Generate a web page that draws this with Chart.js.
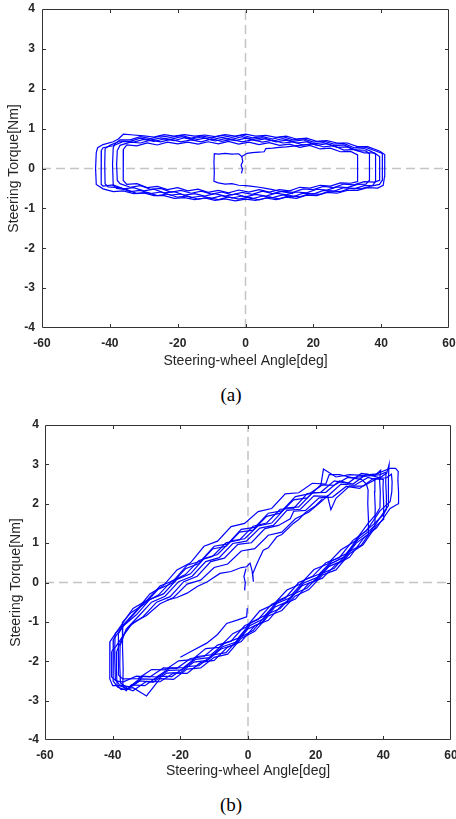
<!DOCTYPE html>
<html>
<head>
<meta charset="utf-8">
<script src="https://cdn.jsdelivr.net/npm/chart.js@4.4.0/dist/chart.umd.min.js"></script>
<style>
  body { margin: 0; background: #fff; width: 456px; height: 819px; position: relative; overflow: hidden; }
  .panel { position: absolute; left: 0; width: 456px; height: 370px; }
  .caption { position: absolute; left: 231px; transform: translateX(-50%); font-family: "Liberation Serif", "Times New Roman", serif; font-size: 19px; line-height: 22px; color: #000; }
</style>
</head>
<body>
<div class="panel" style="top:0"><canvas id="chartA"></canvas></div>
<div class="caption" style="top:384px">(a)</div>
<div class="panel" style="top:410px"><canvas id="chartB"></canvas></div>
<div class="caption" style="top:794px">(b)</div>

<script>
// axes
const angleTicks = [-60, -40, -20, 0, 20, 40, 60];
const torqueTicks = [-4, -3, -2, -1, 0, 1, 2, 3, 4];
const zeroTorqueLine = [[-60, 0], [60, 0]];
const zeroAngleLine = [[0, -4], [0, 4]];

// (a) steering-wheel angle [deg] vs torque [Nm], one array per cycle
const cycleA1 = [[-44,0.4],[-44.2,0.0],[-44,-0.4],[-42,-0.51],[-39,-0.58],[-36,-0.56],[-33,-0.63],[-30,-0.61],[-27,-0.68],[-24,-0.68],[-21,-0.75],[-18,-0.73],[-15,-0.78],[-12,-0.74],[-9,-0.8],[-6,-0.76],[-3,-0.81],[0,-0.77],[3,-0.8],[6,-0.74],[9,-0.78],[12,-0.72],[15,-0.75],[18,-0.67],[21,-0.68],[24,-0.6],[27,-0.62],[30,-0.55],[33,-0.55],[36,-0.48],[39,-0.49],[40.6,-0.42],[41,-0.2],[41.1,0.1],[41,0.35],[39.5,0.44],[36,0.55],[33,0.55],[30,0.64],[27,0.64],[24,0.7],[21,0.68],[18,0.76],[15,0.74],[12,0.81],[9,0.78],[6,0.83],[3,0.81],[0,0.86],[-3,0.81],[-6,0.85],[-9,0.8],[-12,0.84],[-15,0.81],[-18,0.85],[-21,0.81],[-24,0.85],[-27,0.79],[-30,0.82],[-33,0.84],[-36,0.86],[-37.5,0.74],[-39,0.67],[-42,0.6],[-43.6,0.52],[-44,0.4]];
const cycleA2 = [[-37.8,0.45],[-38,0.1],[-37.8,-0.3],[-37,-0.38],[-34,-0.47],[-31,-0.43],[-28,-0.52],[-25,-0.5],[-22,-0.59],[-19,-0.55],[-16,-0.62],[-13,-0.57],[-10,-0.64],[-7,-0.59],[-4,-0.66],[-1,-0.6],[2,-0.65],[5,-0.57],[8,-0.63],[11,-0.57],[14,-0.6],[17,-0.51],[20,-0.53],[23,-0.45],[26,-0.48],[29,-0.39],[32,-0.41],[35,-0.33],[38,-0.34],[39.5,-0.3],[39.6,0.0],[39.5,0.3],[38,0.39],[35,0.39],[32,0.48],[29,0.46],[26,0.57],[23,0.54],[20,0.62],[17,0.59],[14,0.67],[11,0.64],[8,0.71],[5,0.66],[2,0.72],[-1,0.67],[-4,0.73],[-7,0.68],[-10,0.74],[-13,0.67],[-16,0.72],[-19,0.67],[-22,0.73],[-25,0.67],[-28,0.71],[-31,0.64],[-34,0.66],[-37,0.58],[-37.8,0.45]];
const cycleA3 = [[-41.4,0.5],[-41.5,0.1],[-41.4,-0.38],[-40.5,-0.46],[-37,-0.48],[-34,-0.58],[-31,-0.55],[-28,-0.63],[-25,-0.59],[-22,-0.67],[-19,-0.64],[-16,-0.73],[-13,-0.69],[-10,-0.75],[-7,-0.68],[-4,-0.74],[-1,-0.69],[2,-0.76],[5,-0.69],[8,-0.73],[11,-0.66],[14,-0.71],[17,-0.62],[20,-0.64],[23,-0.55],[26,-0.57],[29,-0.48],[32,-0.51],[35,-0.43],[37.5,-0.42],[38.3,-0.33],[38.4,0.0],[38.3,0.36],[37,0.43],[35,0.5],[32,0.48],[29,0.59],[26,0.57],[23,0.65],[20,0.62],[17,0.72],[14,0.68],[11,0.75],[8,0.69],[5,0.77],[2,0.73],[-1,0.8],[-4,0.73],[-7,0.78],[-10,0.72],[-13,0.79],[-16,0.74],[-19,0.8],[-22,0.73],[-25,0.77],[-28,0.71],[-31,0.76],[-34,0.68],[-37,0.69],[-40,0.58],[-41.4,0.5]];
const cycleA4 = [[-36,0.48],[-36.1,0.1],[-36,-0.3],[-35,-0.4],[-32,-0.38],[-29,-0.48],[-26,-0.45],[-23,-0.53],[-20,-0.48],[-17,-0.56],[-14,-0.52],[-11,-0.6],[-8,-0.55],[-5,-0.61],[-2,-0.54],[1,-0.59],[4,-0.53],[7,-0.59],[10,-0.53],[13,-0.56],[16,-0.47],[19,-0.49],[22,-0.42],[25,-0.44],[28,-0.36],[31,-0.37],[33,-0.33],[33.1,0.0],[33,0.34],[31,0.43],[28,0.42],[25,0.51],[22,0.49],[19,0.58],[16,0.53],[13,0.61],[10,0.58],[7,0.65],[4,0.6],[1,0.66],[-2,0.61],[-5,0.68],[-8,0.62],[-11,0.67],[-14,0.61],[-17,0.66],[-20,0.62],[-23,0.66],[-26,0.59],[-29,0.64],[-32,0.57],[-35,0.59],[-36,0.48]];
const cycleA5 = [[-39,0.52],[-39.2,0.1],[-39,-0.42],[-38,-0.5],[-35,-0.53],[-32,-0.63],[-29,-0.6],[-26,-0.68],[-23,-0.64],[-20,-0.72],[-17,-0.69],[-14,-0.77],[-11,-0.73],[-8,-0.78],[-5,-0.71],[-2,-0.77],[1,-0.72],[4,-0.79],[7,-0.72],[10,-0.76],[13,-0.68],[16,-0.71],[19,-0.63],[22,-0.65],[25,-0.56],[28,-0.58],[31,-0.49],[34,-0.51],[37,-0.44],[39.5,-0.4],[40.3,-0.3],[40.4,0.05],[40.3,0.38],[38,0.45],[35,0.54],[32,0.52],[29,0.63],[26,0.61],[23,0.69],[20,0.66],[17,0.75],[14,0.72],[11,0.8],[8,0.74],[5,0.8],[2,0.77],[-1,0.84],[-4,0.78],[-7,0.83],[-10,0.77],[-13,0.82],[-16,0.76],[-19,0.83],[-22,0.78],[-25,0.82],[-28,0.75],[-31,0.8],[-34,0.72],[-37,0.72],[-38.5,0.62],[-39,0.52]];
const cycleA6 = [[-42.5,0.45],[-42.6,0.0],[-42.5,-0.4],[-42,-0.44],[-39,-0.41],[-36,-0.51],[-33,-0.48],[-30,-0.56],[-27,-0.52],[-24,-0.61],[-21,-0.58],[-18,-0.67],[-15,-0.63],[-12,-0.69],[-9,-0.63],[-6,-0.69],[-3,-0.64],[0,-0.71],[3,-0.65],[6,-0.69],[9,-0.62],[12,-0.66],[15,-0.59],[18,-0.61],[21,-0.52],[24,-0.54],[27,-0.46],[30,-0.48],[33,-0.4],[35.5,-0.39],[36.5,-0.3],[36.6,0.05],[36.5,0.37],[35.5,0.44],[33,0.44],[30,0.54],[27,0.53],[24,0.62],[21,0.58],[18,0.67],[15,0.64],[12,0.71],[9,0.67],[6,0.75],[3,0.7],[0,0.76],[-3,0.7],[-6,0.75],[-9,0.69],[-12,0.76],[-15,0.71],[-18,0.77],[-21,0.7],[-24,0.74],[-27,0.68],[-30,0.73],[-33,0.66],[-36,0.68],[-39,0.57],[-42,0.52],[-42.5,0.45]];
const startA1 = [[-1.2,-0.12],[-0.9,-0.02],[-1.3,0.08],[-0.8,0.18],[-1.1,0.3],[-2,0.37],[-4,0.36],[-6,0.38],[-8,0.36],[-9.2,0.37],[-9.3,0.15],[-9.2,-0.1],[-9.3,-0.32],[-8,-0.36],[-6,-0.39],[-4,-0.38],[-2,-0.42],[0,-0.43],[2,-0.45],[4,-0.47],[6,-0.5],[8,-0.53],[10,-0.57],[12,-0.6],[14,-0.63]];
const startA2 = [[-1.1,0.3],[0.5,0.38],[2,0.4],[4,0.41],[5.5,0.42],[6,0.5],[8,0.51],[10,0.53],[12,0.54],[14,0.56],[16,0.58],[18,0.6],[20,0.62]];

// (b)
const cycleB1 = [[-40.8,-1.5],[-40.9,-2.0],[-40.8,-2.45],[-40,-2.62],[-38,-2.62],[-34,-2.75],[-30,-2.51],[-26,-2.52],[-22,-2.3],[-18,-2.31],[-14,-2.03],[-10,-1.98],[-6,-1.64],[-2,-1.5],[2,-1.1],[6,-0.96],[10,-0.57],[14,-0.42],[18,-0.02],[22,0.11],[26,0.46],[30,0.64],[34,1.11],[38,1.39],[42,1.88],[44.4,2.0],[44.5,2.3],[44.3,2.6],[44.4,2.82],[43.6,2.9],[42,2.9],[38,2.76],[34,2.72],[30,2.74],[26,2.68],[22.3,2.88],[21.5,2.45],[18,2.25],[14,2.18],[10,1.82],[6,1.76],[2,1.4],[-2,1.35],[-6,0.98],[-10,0.92],[-14,0.54],[-18,0.44],[-22,0.05],[-26,-0.09],[-30,-0.46],[-34,-0.66],[-38,-1.15],[-40.8,-1.5]];
const cycleB2 = [[-40.3,-1.75],[-40.4,-2.1],[-40.2,-2.4],[-39,-2.5],[-37,-2.53],[-33,-2.38],[-29,-2.4],[-25,-2.17],[-21,-2.18],[-17,-1.93],[-13,-1.88],[-9,-1.59],[-5,-1.49],[-1,-1.1],[3,-0.94],[7,-0.55],[11,-0.4],[15,0.0],[19,0.15],[23,0.5],[27,0.63],[31,1.07],[35,1.31],[39,1.82],[42,2.05],[42.5,2.3],[42.6,2.55],[42.4,2.75],[41,2.66],[37,2.64],[33,2.39],[29,2.44],[25,2.17],[21,2.15],[17,1.83],[13.5,1.81],[12.5,1.62],[9,1.45],[5,1.37],[1,1.01],[-3,0.97],[-7,0.62],[-11,0.53],[-15,0.16],[-19,0.02],[-23,-0.36],[-27,-0.5],[-31,-0.87],[-35,-1.1],[-39,-1.62],[-40.3,-1.75]];
const cycleB3 = [[-39.8,-1.45],[-39.9,-1.95],[-39.8,-2.5],[-38.5,-2.66],[-36,-2.73],[-32,-2.5],[-28,-2.53],[-24,-2.3],[-20,-2.29],[-16,-2.02],[-12,-1.98],[-8,-1.69],[-4,-1.58],[0,-1.18],[4,-1.02],[8,-0.62],[12,-0.47],[16,-0.08],[20,0.05],[24,0.41],[28,0.56],[32,1.0],[36,1.26],[40,1.77],[41.5,1.95],[41.6,2.3],[41.4,2.65],[41.7,3.0],[41,2.78],[39,2.66],[35,2.75],[31,2.5],[27,2.58],[23,2.29],[19,2.28],[15,1.92],[11,1.89],[7,1.51],[3,1.44],[-1,1.11],[-5,1.06],[-9,0.71],[-13,0.61],[-17,0.22],[-21,0.08],[-25,-0.29],[-29,-0.43],[-33,-0.82],[-37,-1.11],[-39.8,-1.45]];
const cycleB4 = [[-39.3,-1.3],[-39.4,-1.9],[-39.2,-2.45],[-38,-2.6],[-35,-2.65],[-31,-2.38],[-27,-2.4],[-23,-2.17],[-19,-2.16],[-15,-1.88],[-11,-1.84],[-7,-1.55],[-3,-1.42],[1,-1.01],[5,-0.84],[9,-0.45],[13,-0.3],[17,0.08],[21,0.21],[25,0.56],[29,0.73],[33,1.18],[37,1.47],[40,1.72],[40.8,1.85],[40.9,2.2],[40.7,2.55],[40.8,2.8],[39,2.74],[35,2.7],[31,2.66],[27,2.74],[24,2.74],[23,2.5],[19,2.52],[15,2.28],[11,2.25],[7,1.88],[3,1.8],[-1,1.5],[-5,1.42],[-9,1.05],[-13,0.92],[-17,0.5],[-21,0.32],[-25,-0.08],[-29,-0.29],[-33,-0.71],[-37,-1.09],[-39.3,-1.3]];
const cycleB5 = [[-38.8,-1.75],[-38.9,-2.2],[-38.7,-2.6],[-37.5,-2.72],[-34,-2.67],[-30,-2.88],[-26,-2.44],[-22,-2.46],[-18,-2.2],[-14,-2.17],[-10,-1.9],[-6,-1.82],[-2,-1.42],[2,-1.24],[6,-0.85],[10,-0.71],[14,-0.34],[18,-0.18],[22,0.19],[26,0.32],[30,0.73],[34,0.96],[38,1.45],[40,1.6],[40.1,2.0],[39.9,2.4],[40,2.62],[38,2.63],[34,2.45],[30,2.45],[26,2.14],[24.5,1.85],[23.5,2.2],[22,2.08],[18,1.79],[14,1.62],[10,1.28],[6,1.2],[2,0.86],[-2,0.8],[-6,0.47],[-10,0.38],[-14,0.06],[-18,-0.04],[-22,-0.38],[-26,-0.54],[-30,-0.84],[-34,-1.02],[-37,-1.36],[-38.8,-1.75]];
const cycleB6 = [[-38.3,-1.3],[-38.4,-1.9],[-38.2,-2.35],[-37,-2.45],[-32.5,-2.44],[-28.5,-2.21],[-24.5,-2.22],[-20.5,-1.99],[-16.5,-1.96],[-12.5,-1.68],[-8.5,-1.65],[-4.5,-1.3],[-0.5,-1.13],[3.5,-0.72],[7.5,-0.56],[11.5,-0.19],[15.5,-0.04],[19.5,0.33],[23.5,0.47],[27.5,0.83],[31.5,1.04],[35.5,1.5],[38,1.75],[39,1.9],[39.1,2.3],[38.9,2.6],[39.2,2.85],[37.5,2.72],[33.5,2.77],[29.5,2.52],[25.5,2.58],[21.5,2.29],[17.5,2.26],[13.5,1.88],[9.5,1.86],[5.5,1.51],[1.5,1.43],[-2.5,1.08],[-6.5,1.01],[-10.5,0.66],[-14.5,0.56],[-18.5,0.2],[-22.5,0.04],[-26.5,-0.32],[-30.5,-0.5],[-34.5,-0.88],[-37,-1.12],[-38.3,-1.3]];
const cycleB7 = [[-37.8,-1.6],[-37.9,-2.1],[-37.7,-2.55],[-36.5,-2.62],[-35.5,-2.7],[-31.5,-2.45],[-27.5,-2.46],[-23.5,-2.23],[-19.5,-2.22],[-15.5,-1.95],[-11.5,-1.91],[-7.5,-1.63],[-3.5,-1.51],[0.5,-1.1],[4.5,-0.93],[8.5,-0.53],[12.5,-0.39],[16.5,-0.01],[20.5,0.13],[24.5,0.48],[28.5,0.65],[32.5,1.09],[36,1.32],[37.5,1.45],[37.6,1.9],[37.4,2.3],[37.5,2.62],[35.5,2.67],[31.5,2.47],[27.5,2.5],[23.5,2.19],[19.5,2.2],[15.5,1.86],[11.5,1.83],[7.5,1.45],[3.5,1.38],[-0.5,1.05],[-4.5,0.99],[-8.5,0.63],[-12.5,0.53],[-16.5,0.16],[-20.5,0.02],[-24.5,-0.35],[-28.5,-0.5],[-32.5,-0.87],[-36,-1.18],[-37.8,-1.6]];
const cycleB8 = [[-37,-1.0],[-37.1,-1.6],[-36.9,-2.2],[-37,-2.6],[-36,-2.75],[-34.5,-2.6],[-30.5,-2.62],[-26.5,-2.38],[-22.5,-2.39],[-18.5,-2.14],[-14.5,-2.11],[-10.5,-1.84],[-6.5,-1.78],[-2.5,-1.4],[1.5,-1.22],[5.5,-0.81],[9.5,-0.66],[13.5,-0.29],[17.5,-0.14],[21.5,0.22],[25.5,0.36],[29.5,0.76],[33.5,0.95],[35.5,1.2],[35.6,1.6],[35.4,2.0],[35.5,2.35],[35,2.5],[33.5,2.62],[29.5,2.67],[25.5,2.47],[21.5,2.48],[17.5,2.15],[13.5,2.1],[9.5,1.76],[5.5,1.68],[1.5,1.33],[-2.5,1.28],[-6.5,0.92],[-10.5,0.85],[-14.5,0.48],[-18.5,0.35],[-22.5,-0.02],[-26.5,-0.17],[-30.5,-0.54],[-34.5,-0.76],[-37,-1.0]];
const startB1 = [[-24,-0.45],[-21,-0.38],[-18,-0.27],[-15,-0.1],[-12,0.02],[-8.3,0.23],[-5,0.28],[-2,0.38],[-0.4,0.4],[0.6,0.49],[1.2,0.3],[1.6,0.02],[1.4,0.22],[2.5,0.45],[4.5,0.82],[6,0.88],[8.5,1.16],[10,1.22],[13.4,1.5],[15,1.6],[17,1.78],[20,1.95],[22,2.12]];
const startB2 = [[-20,-1.9],[-17,-1.76],[-12.2,-1.54],[-9,-1.32],[-6.3,-1.04],[-3,-0.95],[-0.4,-0.87],[-0.2,-0.65]];
const startB3 = [[-1,-0.2],[-0.8,0.0],[-1.2,0.15],[-0.6,0.35]];

const fontFamily = "'Liberation Sans', Arial, sans-serif";
const textColor = '#262626';

function traceSet(pairs) {
  return {
    data: pairs.map(([x, y]) => ({ x, y })),
    showLine: true,
    borderColor: '#0000ff',
    borderWidth: 1.2,
    pointRadius: 0,
    fill: false,
    order: 1
  };
}

function zeroSet(pairs) {
  return {
    data: pairs.map(([x, y]) => ({ x, y })),
    showLine: true,
    borderColor: '#c4c4c4',
    borderDash: [9, 5],
    borderWidth: 1.5,
    pointRadius: 0,
    order: 2
  };
}

// box + inward ticks on all four sides
const framePlugin = {
  id: 'frame',
  afterDatasetsDraw(chart) {
    const { ctx, chartArea: a, scales } = chart;
    const len = 4;
    ctx.save();
    ctx.strokeStyle = '#333';
    ctx.lineWidth = 1;
    ctx.beginPath();
    ctx.rect(a.left + 0.5, a.top + 0.5, a.right - a.left - 1, a.bottom - a.top - 1);
    angleTicks.slice(1, -1).forEach(v => {
      const px = Math.round(scales.x.getPixelForValue(v)) + 0.5;
      ctx.moveTo(px, a.bottom); ctx.lineTo(px, a.bottom - len);
      ctx.moveTo(px, a.top); ctx.lineTo(px, a.top + len);
    });
    torqueTicks.slice(1, -1).forEach(v => {
      const py = Math.round(scales.y.getPixelForValue(v)) + 0.5;
      ctx.moveTo(a.left, py); ctx.lineTo(a.left + len, py);
      ctx.moveTo(a.right, py); ctx.lineTo(a.right - len, py);
    });
    ctx.stroke();
    ctx.restore();
  }
};

function makeChart(id, traces, box) {
  return new Chart(document.getElementById(id), {
    type: 'scatter',
    data: {
      datasets: [zeroSet(zeroTorqueLine), zeroSet(zeroAngleLine)].concat(traces.map(traceSet))
    },
    options: {
      responsive: true,
      maintainAspectRatio: false,
      animation: false,
      layout: { padding: { top: box.top, right: box.right, left: 0, bottom: 0 } },
      plugins: { legend: { display: false }, tooltip: { enabled: false } },
      scales: {
        x: {
          type: 'linear',
          min: -60,
          max: 60,
          afterBuildTicks: s => { s.ticks = angleTicks.map(v => ({ value: v })); },
          afterFit: s => { s.height = box.xHeight; s.paddingLeft = 0; s.paddingRight = 0; },
          grid: { display: false, drawTicks: false },
          border: { display: false },
          ticks: { padding: 8, maxRotation: 0, autoSkip: false, color: textColor, font: { family: fontFamily, size: 12, weight: 'bold' } },
          title: { display: true, text: 'Steering-wheel Angle[deg]', color: textColor, padding: 0, font: { family: fontFamily, size: 14 } }
        },
        y: {
          type: 'linear',
          min: -4,
          max: 4,
          afterBuildTicks: s => { s.ticks = torqueTicks.map(v => ({ value: v })); },
          afterFit: s => { s.width = box.yWidth; s.paddingTop = 0; s.paddingBottom = 0; },
          grid: { display: false, drawTicks: false },
          border: { display: false },
          ticks: { padding: box.yPad, autoSkip: false, color: textColor, font: { family: fontFamily, size: 12, weight: 'bold' } },
          title: { display: true, text: 'Steering Torque[Nm]', color: textColor, padding: { top: box.titlePad, bottom: 0 }, font: { family: fontFamily, size: 14 } }
        }
      }
    },
    plugins: [framePlugin]
  });
}

makeChart('chartA',
  [cycleA1, cycleA2, cycleA3, cycleA4, cycleA5, cycleA6, startA1, startA2],
  { top: 9, right: 7, yWidth: 42, xHeight: 42, yPad: 7, titlePad: 6 });

makeChart('chartB',
  [cycleB1, cycleB2, cycleB3, cycleB4, cycleB5, cycleB6, cycleB7, cycleB8, startB1, startB2, startB3],
  { top: 15, right: 5, yWidth: 45, xHeight: 40, yPad: 6, titlePad: 8 });
</script>
</body>
</html>
